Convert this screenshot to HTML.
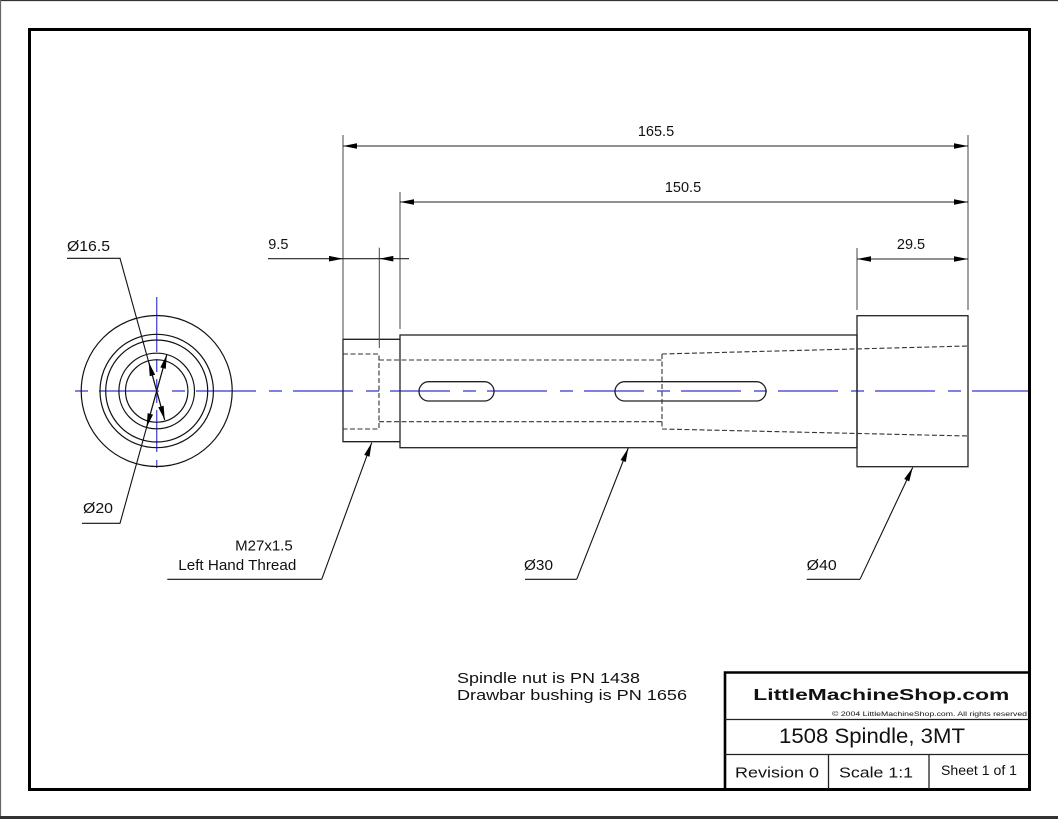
<!DOCTYPE html>
<html><head><meta charset="utf-8"><style>
html,body{margin:0;padding:0;background:#fff;}
svg{display:block;}
text{font-family:"Liberation Sans",Arial,sans-serif;fill:#111;}
</style></head><body>
<svg width="1058" height="819" viewBox="0 0 1058 819" xmlns="http://www.w3.org/2000/svg">
<defs>
<marker id="ar" markerUnits="userSpaceOnUse" markerWidth="20" markerHeight="10" viewBox="-15 -5 16 10" refX="0" refY="0" orient="auto">
<path d="M0,0 L-14,-2.8 L-14,2.8 z" fill="#000"/>
</marker>
<marker id="ars" markerUnits="userSpaceOnUse" markerWidth="20" markerHeight="10" viewBox="-15 -5 16 10" refX="0" refY="0" orient="auto-start-reverse">
<path d="M0,0 L-14,-2.8 L-14,2.8 z" fill="#000"/>
</marker>
</defs>
<rect x="0" y="0" width="1058" height="819" fill="#fff"/>
<!-- outer image edges -->
<line x1="0" y1="0.5" x2="1058" y2="0.5" stroke="#333" stroke-width="1.2"/>
<line x1="0.5" y1="0" x2="0.5" y2="819" stroke="#666" stroke-width="1.2"/>
<rect x="0" y="816" width="1058" height="3" fill="#333"/>
<!-- frame -->
<rect x="29.5" y="29.5" width="1000" height="760" fill="none" stroke="#000" stroke-width="3"/>

<!-- centerlines -->
<g stroke="#5757dc" stroke-width="1.4" fill="none">
<line x1="72" y1="391" x2="1028" y2="391" stroke-dasharray="60 13 13 11" stroke-dashoffset="70"/>
<path d="M156.7,297 V352 M156.7,359 V372 M156.7,379 V403 M156.7,410 V452 M156.7,460 V468"/>
</g>

<!-- left view circles -->
<g stroke="#111" stroke-width="1.2" fill="none">
<circle cx="156.7" cy="391" r="75.5"/>
<circle cx="156.7" cy="391" r="56.7"/>
<circle cx="156.7" cy="391" r="51"/>
<circle cx="156.7" cy="391" r="37.8"/>
<circle cx="156.7" cy="391" r="31.2"/>
</g>
<!-- left view leaders -->
<g stroke="#111" stroke-width="1.1" fill="none">
<path d="M67,258.3 H120 L164.7,420"/>
<line x1="156.7" y1="391" x2="148.7" y2="362" marker-end="url(#ar)"/>
<line x1="156.7" y1="391" x2="164.7" y2="420" marker-end="url(#ar)"/>
<path d="M82,523.3 H120 L166.8,354.6"/>
<line x1="156.7" y1="391" x2="166.8" y2="354.6" marker-end="url(#ar)"/>
<line x1="156.7" y1="391" x2="146.6" y2="427.4" marker-end="url(#ar)"/>
</g>
<text x="67" y="251" font-size="15" textLength="43" lengthAdjust="spacingAndGlyphs">Ø16.5</text>
<text x="83" y="513" font-size="15" textLength="30" lengthAdjust="spacingAndGlyphs">Ø20</text>

<!-- main view outlines -->
<g stroke="#222" stroke-width="1.3" fill="none">
<path d="M400,339.3 H343 V441.7 H400"/>
<rect x="400" y="335" width="457" height="112.7"/>
<rect x="857" y="315.7" width="111" height="151"/>
<rect x="419" y="381.7" width="75" height="19.3" rx="9.65" ry="9.65"/>
<rect x="615" y="381.7" width="151" height="19.3" rx="9.65" ry="9.65"/>
</g>
<!-- hidden lines -->
<g stroke="#333" stroke-width="1.1" fill="none" stroke-dasharray="5 2.5">
<path d="M343,354 H379 V429 H343"/>
<path d="M379,360 H662"/>
<path d="M379,421.7 H662"/>
<path d="M662,354 V429"/>
<path d="M662,354 L968,346"/>
<path d="M662,429 L968,436"/>
</g>

<!-- extension lines -->
<g stroke="#444" stroke-width="1" fill="none">
<line x1="343" y1="135" x2="343" y2="339"/>
<line x1="379.3" y1="247.7" x2="379.3" y2="348"/>
<line x1="400" y1="192" x2="400" y2="329"/>
<line x1="968" y1="135" x2="968" y2="310"/>
<line x1="857" y1="248" x2="857" y2="310"/>
</g>
<!-- dimension lines -->
<g stroke="#222" stroke-width="1.1" fill="none">
<line x1="343" y1="146" x2="968" y2="146" marker-start="url(#ars)" marker-end="url(#ars)"/>
<line x1="400" y1="202" x2="968" y2="202" marker-start="url(#ars)" marker-end="url(#ars)"/>
<line x1="857" y1="259" x2="968" y2="259" marker-start="url(#ars)" marker-end="url(#ars)"/>
<line x1="268" y1="258.7" x2="409" y2="258.7"/>
</g>
<path d="M343,258.7 L329,255.9 L329,261.5 z" fill="#000"/>
<path d="M379.3,258.7 L393.3,255.9 L393.3,261.5 z" fill="#000"/>

<text x="656" y="136" font-size="14.5" text-anchor="middle">165.5</text>
<text x="683" y="192" font-size="14.5" text-anchor="middle">150.5</text>
<text x="268.3" y="249" font-size="14.5">9.5</text>
<text x="911" y="249" font-size="14.5" text-anchor="middle">29.5</text>

<!-- leaders main view -->
<g stroke="#111" stroke-width="1.1" fill="none">
<path d="M167.3,579.3 H321.7"/>
<line x1="321.7" y1="579.3" x2="371.7" y2="442.7" marker-end="url(#ar)"/>
<path d="M525,579.3 H576.7"/>
<line x1="576.7" y1="579.3" x2="628.3" y2="448" marker-end="url(#ar)"/>
<path d="M806.7,579.3 H860"/>
<line x1="860" y1="579.3" x2="912.7" y2="467.5" marker-end="url(#ar)"/>
</g>
<text x="292.7" y="550.7" font-size="15" text-anchor="end">M27x1.5</text>
<text x="178.3" y="570" font-size="15" textLength="118" lengthAdjust="spacingAndGlyphs">Left Hand Thread</text>
<text x="524" y="570" font-size="15" textLength="29" lengthAdjust="spacingAndGlyphs">Ø30</text>
<text x="806.7" y="570" font-size="15" textLength="30" lengthAdjust="spacingAndGlyphs">Ø40</text>

<!-- notes -->
<text x="457" y="683" font-size="14.5" textLength="183" lengthAdjust="spacingAndGlyphs">Spindle nut is PN 1438</text>
<text x="457" y="700" font-size="14.5" textLength="230" lengthAdjust="spacingAndGlyphs">Drawbar bushing is PN 1656</text>

<!-- title block -->
<g fill="none" stroke="#000">
<path d="M725,789.5 V672.5 H1029.5" stroke-width="2.6"/>
<line x1="725" y1="719.5" x2="1029" y2="719.5" stroke-width="1.3" stroke="#222"/>
<line x1="725" y1="754.5" x2="1029" y2="754.5" stroke-width="1.3" stroke="#222"/>
<line x1="828.5" y1="754.5" x2="828.5" y2="789" stroke-width="1.3" stroke="#222"/>
<line x1="929" y1="754.5" x2="929" y2="789" stroke-width="1.3" stroke="#222"/>
</g>
<text x="753.3" y="700" font-size="15.5" font-weight="bold" textLength="256" lengthAdjust="spacingAndGlyphs">LittleMachineShop.com</text>
<text x="832" y="716" font-size="6.5" textLength="195" lengthAdjust="spacingAndGlyphs">© 2004 LittleMachineShop.com. All rights reserved</text>
<text x="779" y="743" font-size="21" textLength="186" lengthAdjust="spacingAndGlyphs">1508 Spindle, 3MT</text>
<text x="735" y="777.5" font-size="15" textLength="84" lengthAdjust="spacingAndGlyphs">Revision 0</text>
<text x="839" y="777.5" font-size="15" textLength="74" lengthAdjust="spacingAndGlyphs">Scale 1:1</text>
<text x="941" y="775" font-size="14" textLength="76" lengthAdjust="spacingAndGlyphs">Sheet 1 of 1</text>
</svg>
</body></html>
